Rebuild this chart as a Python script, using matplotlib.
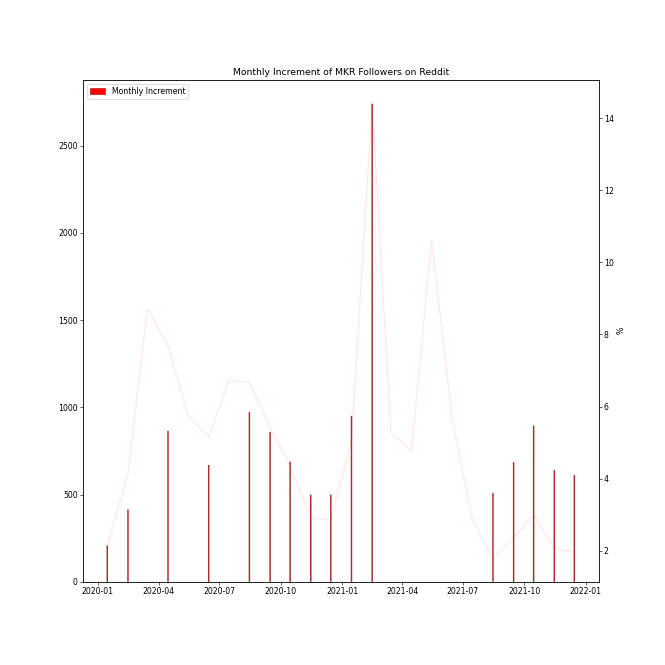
import matplotlib
matplotlib.use("Agg")
import matplotlib.pyplot as plt
import matplotlib.dates as mdates
import pandas as pd

months = [pd.Timestamp(y, m, 15) for y in (2020, 2021) for m in range(1, 13)]

increment = [208, 415, 0, 866, 0, 670, 0, 974, 859, 689, 500, 500,
             952, 2741, 0, 0, 0, 0, 0, 510, 686, 896, 642, 612]
pct = [2.14, 4.13, 8.71, 7.69, 5.76, 5.14, 6.73, 6.67, 5.40, 4.36, 2.91, 2.85,
       5.05, 14.43, 5.28, 4.77, 10.60, 5.65, 2.88, 1.77, 2.37, 2.99, 2.07, 1.95]

fig = plt.figure(figsize=(12, 12), dpi=665 / 12)
ax = fig.add_subplot(111)
fig.subplots_adjust(left=0.125, right=0.9, top=0.88, bottom=0.125)

bars = ax.bar(months, increment, width=2.2, color="#b02a2a", linewidth=0,
              label="Monthly Increment")
for b in bars:
    b.set_snap(False)
ax.xaxis.set_major_locator(mdates.MonthLocator(bymonth=[1, 4, 7, 10]))
ax.xaxis.set_major_formatter(mdates.DateFormatter("%Y-%m"))
ax.set_title("Monthly Increment of MKR Followers on Reddit")
ax.legend(loc="upper left",
          handles=[plt.Rectangle((0, 0), 1, 1, facecolor="red", edgecolor="#c02020")],
          labels=["Monthly Increment"])

ax2 = ax.twinx()
ax2.plot(months, pct, color="red", alpha=0.1)
ax2.set_ylabel("%")

fig.savefig("out.png", dpi=665 / 12)
